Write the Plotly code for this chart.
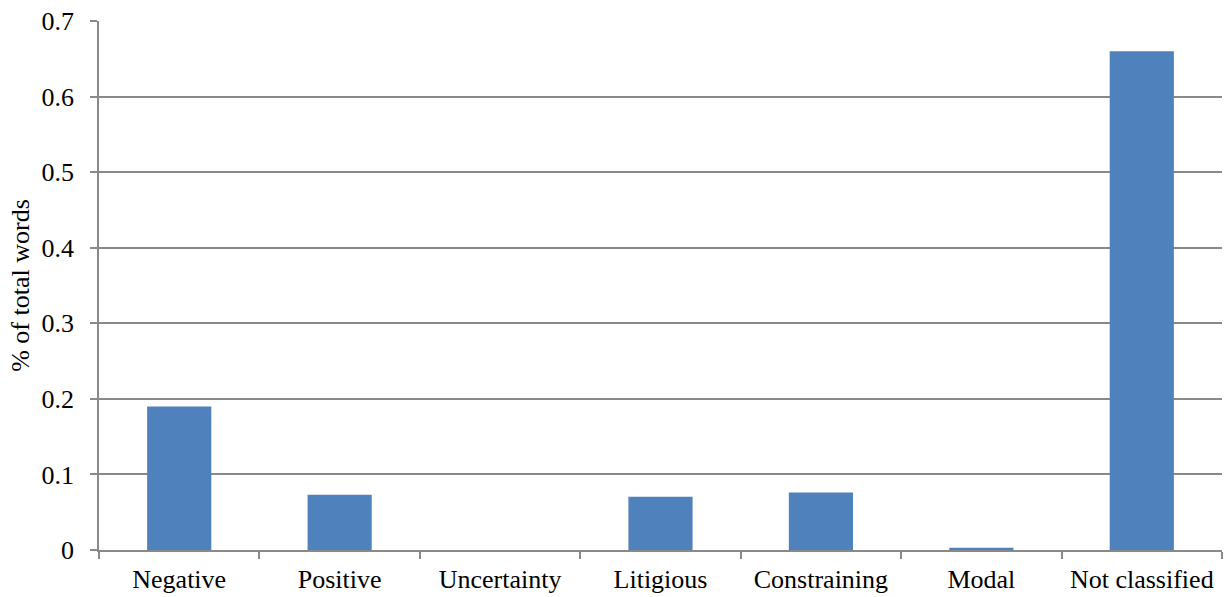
import plotly.graph_objects as go

# Share of total words per sentiment category
categories = ["Negative", "Positive", "Uncertainty", "Litigious",
              "Constraining", "Modal", "Not classified"]
share = [0.19, 0.073, 0.0, 0.0705, 0.076, 0.003, 0.66]
y_ticks = [0, 0.1, 0.2, 0.3, 0.4, 0.5, 0.6, 0.7]
y_tick_text = ["0", "0.1", "0.2", "0.3", "0.4", "0.5", "0.6", "0.7"]

bar_color = "#4F81BD"
axis_gray = "#898989"
serif = "Liberation Serif"

fig = go.Figure(
    go.Bar(
        x=categories,
        y=share,
        marker=dict(color=bar_color, line=dict(width=0)),
        width=0.4,
        hoverinfo="x+y",
    )
)

fig.update_layout(
    width=1230,
    height=597,
    margin=dict(l=99, r=8, t=21, b=47),
    paper_bgcolor="white",
    plot_bgcolor="white",
    showlegend=False,
    font=dict(family=serif, size=26, color="black"),
)

fig.update_xaxes(
    type="category",
    automargin=False,
    showgrid=False,
    showline=True,
    linecolor=axis_gray,
    linewidth=1.5,
    ticks="outside",
    tickson="boundaries",
    ticklen=7,
    tickwidth=1.5,
    tickcolor=axis_gray,
    tickfont=dict(family=serif, size=26, color="black"),
    ticklabelstandoff=5,
)

fig.update_yaxes(
    range=[0, 0.7],
    automargin=False,
    tickvals=y_ticks,
    ticktext=y_tick_text,
    showgrid=True,
    gridcolor=axis_gray,
    gridwidth=1.5,
    zeroline=False,
    showline=True,
    linecolor=axis_gray,
    linewidth=1.5,
    ticks="outside",
    ticklen=7,
    tickwidth=1.5,
    tickcolor=axis_gray,
    tickfont=dict(family=serif, size=26, color="black"),
    ticklabelstandoff=11,
    title=dict(text="% of total words",
               font=dict(family=serif, size=26, color="black"),
               standoff=4),
)

fig.write_html("out.html")
